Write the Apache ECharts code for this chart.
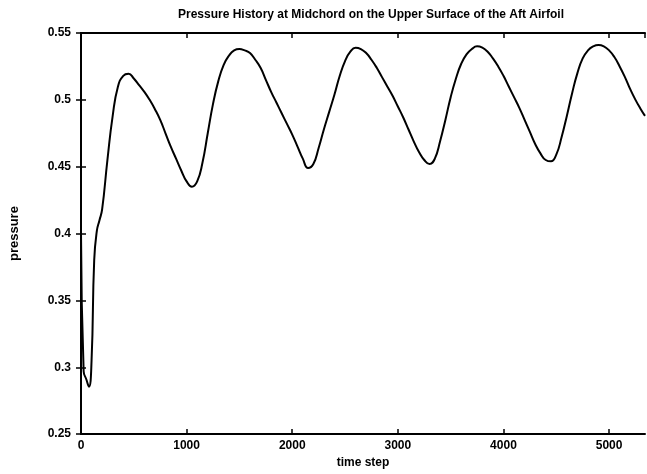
<!DOCTYPE html>
<html>
<head>
<meta charset="utf-8">
<script src="https://cdn.jsdelivr.net/npm/echarts@6/dist/echarts.min.js"></script>
<style>
  html, body { margin: 0; padding: 0; background: #fff; }
  #chart { width: 647px; height: 474px; }
</style>
</head>
<body>
<div id="chart"></div>
<script>
// time step values
const timeSteps = [
  0, 25, 50, 75, 100, 125, 150, 175, 200, 250, 300, 350, 400, 450, 500, 550, 600, 650, 700, 750,
  800, 850, 900, 950, 1000, 1050, 1100, 1150, 1200, 1250, 1300, 1350, 1400, 1450, 1500, 1550,
  1600, 1650, 1700, 1750, 1800, 1850, 1900, 1950, 2000, 2050, 2100, 2150, 2200, 2250, 2300, 2350,
  2400, 2450, 2500, 2550, 2600, 2650, 2700, 2750, 2800, 2850, 2900, 2950, 3000, 3050, 3100, 3150,
  3200, 3250, 3300, 3350, 3400, 3450, 3500, 3550, 3600, 3650, 3700, 3750, 3800, 3850, 3900, 3950,
  4000, 4050, 4100, 4150, 4200, 4250, 4300, 4350, 4400, 4450, 4500, 4550, 4600, 4650, 4700, 4750,
  4800, 4850, 4900, 4950, 5000, 5050, 5100, 5150, 5200, 5250, 5300, 5340
]
// pressure at midchord, upper surface
const pressure = [
  0.40, 0.297, 0.291, 0.2855, 0.305, 0.380, 0.402, 0.410, 0.418, 0.455, 0.488, 0.510, 0.518, 0.5195, 0.516, 0.511, 0.506, 0.500, 0.493, 0.485,
  0.475, 0.465, 0.456, 0.447, 0.439, 0.435, 0.439, 0.453, 0.475, 0.497, 0.514, 0.526, 0.533, 0.537, 0.538, 0.537,
  0.535, 0.530, 0.524, 0.515, 0.506, 0.498, 0.490, 0.482, 0.474, 0.465, 0.456, 0.449, 0.452, 0.464, 0.478, 0.491,
  0.504, 0.518, 0.529, 0.536, 0.539, 0.538, 0.535, 0.530, 0.524, 0.517, 0.510, 0.503, 0.495, 0.487, 0.478, 0.469,
  0.461, 0.455, 0.452, 0.456, 0.469, 0.485, 0.502, 0.516, 0.527, 0.534, 0.538, 0.540, 0.539, 0.536, 0.531, 0.525,
  0.518, 0.510, 0.502, 0.494, 0.485, 0.476, 0.467, 0.460, 0.455, 0.454, 0.459, 0.472, 0.488, 0.505, 0.520, 0.531,
  0.537, 0.540, 0.541, 0.540, 0.537, 0.532, 0.525, 0.517, 0.508, 0.500, 0.493, 0.488
]
const xTicks = [0, 1000, 2000, 3000, 4000, 5000]
const yTicks = [0.25, 0.3, 0.35, 0.4, 0.45, 0.5, 0.55]

const chart = echarts.init(document.getElementById('chart'))
const font = 'Liberation Sans'
const lineStyle = { color: '#000', width: 2 }
const tickStyle = { inside: true, length: 5, lineStyle: { color: '#000', width: 1.5 } }

const option = {
  backgroundColor: '#fff',
  animation: false,
  title: {
    text: 'Pressure History at Midchord on the Upper Surface of the Aft Airfoil',
    left: 366,
    textAlign: 'center',
    top: 4,
    textStyle: { fontFamily: font, fontSize: 12, fontWeight: 'bold', color: '#000' }
  },
  grid: { left: 81, right: 2, top: 33, bottom: 34 },
  xAxis: [
    {
      type: 'value', min: 0, max: 5340, interval: 1000,
      name: 'time step', nameLocation: 'middle', nameGap: 20,
      nameTextStyle: { fontFamily: font, fontSize: 12, fontWeight: 'bold', color: '#000' },
      axisLine: { lineStyle },
      axisTick: tickStyle,
      axisLabel: {
        fontFamily: font, fontSize: 12, fontWeight: 'bold', color: '#000', margin: 6,
        showMaxLabel: false,
        formatter: v => (xTicks.includes(v) ? String(v) : '')
      },
      splitLine: { show: false }
    },
    {
      type: 'value', position: 'top', min: 0, max: 5340, interval: 1000,
      axisLine: { lineStyle },
      axisTick: tickStyle,
      axisLabel: { show: false },
      splitLine: { show: false }
    }
  ],
  yAxis: [
    {
      type: 'value', min: 0.25, max: 0.55, interval: 0.05,
      name: 'pressure', nameLocation: 'middle', nameGap: 60, nameRotate: 90,
      nameTextStyle: { fontFamily: font, fontSize: 13, fontWeight: 'bold', color: '#000' },
      axisLine: { lineStyle },
      axisTick: tickStyle,
      axisLabel: {
        fontFamily: font, fontSize: 12, fontWeight: 'bold', color: '#000', margin: 10,
        formatter: v => {
          const t = yTicks.find(y => Math.abs(y - v) < 1e-9)
          return t === undefined ? '' : String(t)
        }
      },
      splitLine: { show: false }
    },
    {
      type: 'value', position: 'right', min: 0.25, max: 0.55, interval: 0.05,
      axisLine: { lineStyle },
      axisTick: tickStyle,
      axisLabel: { show: false },
      splitLine: { show: false }
    }
  ],
  series: [
    {
      type: 'line',
      data: timeSteps.map((t, i) => [t, pressure[i]]),
      smooth: 0.5,
      showSymbol: false,
      lineStyle: { color: '#000', width: 2 }
    }
  ]
}
chart.setOption(option)
</script>
</body>
</html>
